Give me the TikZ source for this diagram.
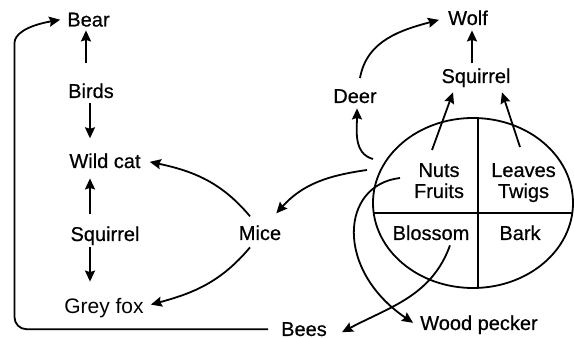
\documentclass[tikz,border=0pt]{standalone}
\usepackage{fontspec}
\setmainfont{Liberation Sans}
\newfontfamily\heavyfont{Liberation Sans}[FakeBold=0.6]
\usetikzlibrary{arrows.meta,calc}
\begin{document}
\begin{tikzpicture}[x=1pt,y=-1pt,
  lbl/.style={font=\heavyfont\fontsize{20}{21}\selectfont, inner sep=1pt, align=center},
  arr/.style={line width=1.8pt, -{Stealth[length=11pt,width=10pt,inset=1.5pt]}},
  ln/.style={line width=1.8pt}]
\useasboundingbox (0,0) rectangle (574,339);
% labels
\node[lbl,anchor=base] (bear) at (88.5,26.5) {Bear};
\node[lbl,anchor=base] (birds) at (91,98) {Birds};
\node[lbl,anchor=base] (wildcat) at (105,168) {Wild cat};
\node[lbl,anchor=base] (squirrelL) at (105,241) {Squirrel};
\node[lbl,anchor=base,font=\rmfamily\fontsize{21}{22}\selectfont] (greyfox) at (104,314) {Grey fox};
\node[lbl,anchor=base] (mice) at (260,240) {Mice};
\node[lbl,anchor=base] (bees) at (304,336) {Bees};
\node[lbl,anchor=base] (wolf) at (468,25) {Wolf};
\node[lbl,anchor=base] (squirrelR) at (476,83) {Squirrel};
\node[lbl,anchor=base] (deer) at (355,103) {Deer};
\node[lbl,anchor=north] (nuts) at (439,162) {Nuts\\Fruits};
\node[lbl,anchor=north] (leaves) at (523.5,162) {Leaves\\Twigs};
\node[lbl,anchor=base] (blossom) at (431,240) {Blossom};
\node[lbl,anchor=base] (bark) at (520,240) {Bark};
\node[lbl,anchor=base] (woodpecker) at (479,330) {Wood pecker};
% tree ellipse
\draw[ln] (473,203) ellipse [x radius=100pt, y radius=85pt];
\draw[ln] (478,118.1) -- (478,287.9);
\draw[ln] (373.7,213) -- (572.3,213);
% free ends
\coordinate (nutsTop) at (432,150);
\coordinate (leavesTop) at (520,147);
\coordinate (deerSrc) at (373,159);
\coordinate (miceSrc) at (367,170);
\coordinate (wpSrc) at (400,178);
\coordinate (leftx) at (14.5,55);
% left column
\draw[arr, shorten <=19pt, shorten >=2.5pt] ([xshift=-5pt]birds.north) -- ([xshift=-5pt]birds.north |- bear.south);
\draw[arr, shorten <=4pt, shorten >=14pt] ([xshift=-1pt]birds.south) -- ([xshift=-1pt]birds.south |- wildcat.north);
\draw[arr, shorten <=11pt, shorten >=9pt] ([xshift=-15pt]squirrelL.north) -- ([xshift=-15pt]squirrelL.north |- wildcat.south);
\draw[arr, shorten <=1pt, shorten >=16pt] ([xshift=-15pt]squirrelL.south) -- ([xshift=-15pt]squirrelL.south |- greyfox.north);
% mice
\draw[arr] ([xshift=-10pt,yshift=8pt]mice.north) to[out=130,in=-12] ([xshift=8pt,yshift=-1pt]wildcat.east);
\draw[arr] ([xshift=-10pt,yshift=-6pt]mice.south) to[out=230,in=15] ([xshift=6pt,yshift=4pt]greyfox.east);
\draw[arr] (miceSrc) to[out=188,in=48] ([xshift=-6pt,yshift=11pt]mice.north east);
% right side
\draw[arr, shorten <=4pt, shorten >=4pt] ([xshift=-4pt]squirrelR.north) -- ([xshift=-4pt]squirrelR.north |- wolf.south);
\draw[arr] (nutsTop) -- ([xshift=-23pt,yshift=-4pt]squirrelR.south);
\draw[arr] (leavesTop) -- ([xshift=26pt,yshift=-4pt]squirrelR.south);
\draw[arr] ([xshift=5pt,yshift=10pt]deer.north) to[out=80,in=195] ([xshift=-8pt,yshift=-2pt]wolf.west);
\draw[arr] (deerSrc) to[out=165,in=-90] ([xshift=2pt,yshift=-4pt]deer.south);
\draw[arr] (wpSrc) .. controls (340,185) and (335,270) .. ([xshift=-6pt,yshift=2pt]woodpecker.west);
\draw[arr] ([xshift=19pt,yshift=-4pt]blossom.south) to[out=250,in=28] ([xshift=14pt,yshift=-3pt]bees.east);
% long connector bees -> bear
\draw[arr, shorten <=12pt, rounded corners=12pt] (bees.west) -- (bees.west -| leftx) -- (leftx) [sharp corners] .. controls (14.5,35) and (25,26) .. ([xshift=-6pt]bear.west);
\end{tikzpicture}
\end{document}
